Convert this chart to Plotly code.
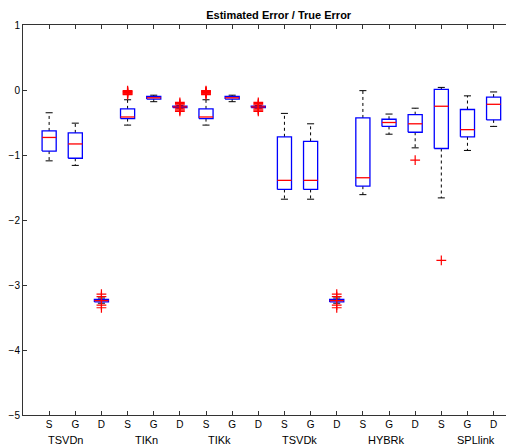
import plotly.graph_objects as go

# ---- data ----
groups = ["TSVDn", "TIKn", "TIKk", "TSVDk", "HYBRk", "SPLlink"]
methods = ["S", "G", "D"]
tick_labels = methods * len(groups)

lower_whisker = [-1.09, -1.16, -3.28, -0.54, -0.18, -0.28, -0.54, -0.18, -0.28,
                 -1.68, -1.68, -3.28, -1.61, -0.68, -0.89, -1.66, -0.93, -0.56]
q1 = [-0.94, -1.05, -3.26, -0.44, -0.14, -0.27, -0.44, -0.14, -0.27,
      -1.53, -1.53, -3.26, -1.48, -0.56, -0.65, -0.90, -0.72, -0.46]
median = [-0.73, -0.83, -3.24, -0.415, -0.12, -0.26, -0.415, -0.12, -0.26,
          -1.39, -1.39, -3.24, -1.35, -0.50, -0.52, -0.25, -0.61, -0.22]
q3 = [-0.63, -0.66, -3.22, -0.29, -0.10, -0.25, -0.29, -0.10, -0.25,
      -0.72, -0.79, -3.22, -0.43, -0.45, -0.38, 0.01, -0.30, -0.11]
upper_whisker = [-0.35, -0.51, -3.20, -0.15, -0.08, -0.24, -0.15, -0.08, -0.24,
                 -0.36, -0.52, -3.20, -0.01, -0.37, -0.28, 0.04, -0.09, -0.03]
outliers = [
    [], [], [-3.14, -3.18, -3.31, -3.35],
    [-0.01, -0.02, -0.03, -0.04, -0.05, -0.06, -0.07], [], [-0.19, -0.21, -0.23, -0.29, -0.31, -0.33],
    [-0.01, -0.02, -0.03, -0.04, -0.05, -0.06, -0.07], [], [-0.19, -0.21, -0.23, -0.29, -0.31, -0.33],
    [], [], [-3.14, -3.18, -3.31, -3.35],
    [], [], [-1.08],
    [-2.62], [], [],
]

# ---- style ----
HALF = 0.27
CAP = 0.135
FONT = "Liberation Sans, Arial, Helvetica, sans-serif"
group_label_x = [1.64, 4.74, 7.53, 10.59, 13.92, 17.32]

positions = list(range(1, len(tick_labels) + 1))

wx, wy, cx, cy, bx, by, mx, my, ox, oy = [], [], [], [], [], [], [], [], [], []
for i, p in enumerate(positions):
    wx += [p, p, None, p, p, None]
    wy += [q3[i], upper_whisker[i], None, q1[i], lower_whisker[i], None]
    cx += [p - CAP, p + CAP, None, p - CAP, p + CAP, None]
    cy += [upper_whisker[i], upper_whisker[i], None, lower_whisker[i], lower_whisker[i], None]
    bx += [p - HALF, p + HALF, p + HALF, p - HALF, p - HALF, None]
    by += [q1[i], q1[i], q3[i], q3[i], q1[i], None]
    mx += [p - HALF, p + HALF, None]
    my += [median[i], median[i], None]
    for v in outliers[i]:
        ox.append(p)
        oy.append(v)

fig = go.Figure()
fig.add_trace(go.Scatter(x=wx, y=wy, mode="lines", line=dict(color="black", width=1, dash="3px,3px"),
                         hoverinfo="skip", showlegend=False))
fig.add_trace(go.Scatter(x=cx, y=cy, mode="lines", line=dict(color="black", width=1),
                         hoverinfo="skip", showlegend=False))
fig.add_trace(go.Scatter(x=bx, y=by, mode="lines", line=dict(color="#0000ff", width=1.3),
                         hoverinfo="skip", showlegend=False))
fig.add_trace(go.Scatter(x=mx, y=my, mode="lines", line=dict(color="#ff0000", width=1.3),
                         hoverinfo="skip", showlegend=False))
fig.add_trace(go.Scatter(x=ox, y=oy, mode="markers",
                         marker=dict(symbol="cross-thin", size=7, line=dict(color="#ff0000", width=1.2)),
                         showlegend=False))

for g, gx in zip(groups, group_label_x):
    fig.add_annotation(x=gx, xref="x", y=0, yref="paper", yanchor="middle", yshift=-25,
                       text=g, showarrow=False, font=dict(family=FONT, size=11, color="black"))

# The page body has an 8px margin, so the figure is 8px smaller and shifted.
W, H = 506, 439
fig.update_layout(
    width=W, height=H,
    margin=dict(l=15, r=0, t=17, b=32, autoexpand=False),
    plot_bgcolor="white", paper_bgcolor="white",
    title=dict(text="Estimated Error / True Error", x=0.535, xanchor="center",
               y=1 - 7 / H, yanchor="middle", yref="container",
               font=dict(family=FONT, size=11, color="black", weight="bold")),
    font=dict(family=FONT, size=10, color="black"),
)
fig.update_xaxes(range=[0, 18.78], tickmode="array", tickvals=positions, ticktext=tick_labels,
                 ticks="inside", ticklen=4, tickcolor="#333", showline=True, linecolor="#333",
                 linewidth=1, mirror="ticks", showgrid=False, zeroline=False, automargin=False,
                 tickfont=dict(family=FONT, size=10, color="black"))
fig.update_yaxes(range=[-5, 1], tickmode="linear", tick0=-5, dtick=1,
                 ticks="inside", ticklen=4, tickcolor="#333", showline=True, linecolor="#333",
                 linewidth=1, showgrid=False, zeroline=False, automargin=False,
                 tickfont=dict(family=FONT, size=10, color="black"))

fig.write_html("out.html")
